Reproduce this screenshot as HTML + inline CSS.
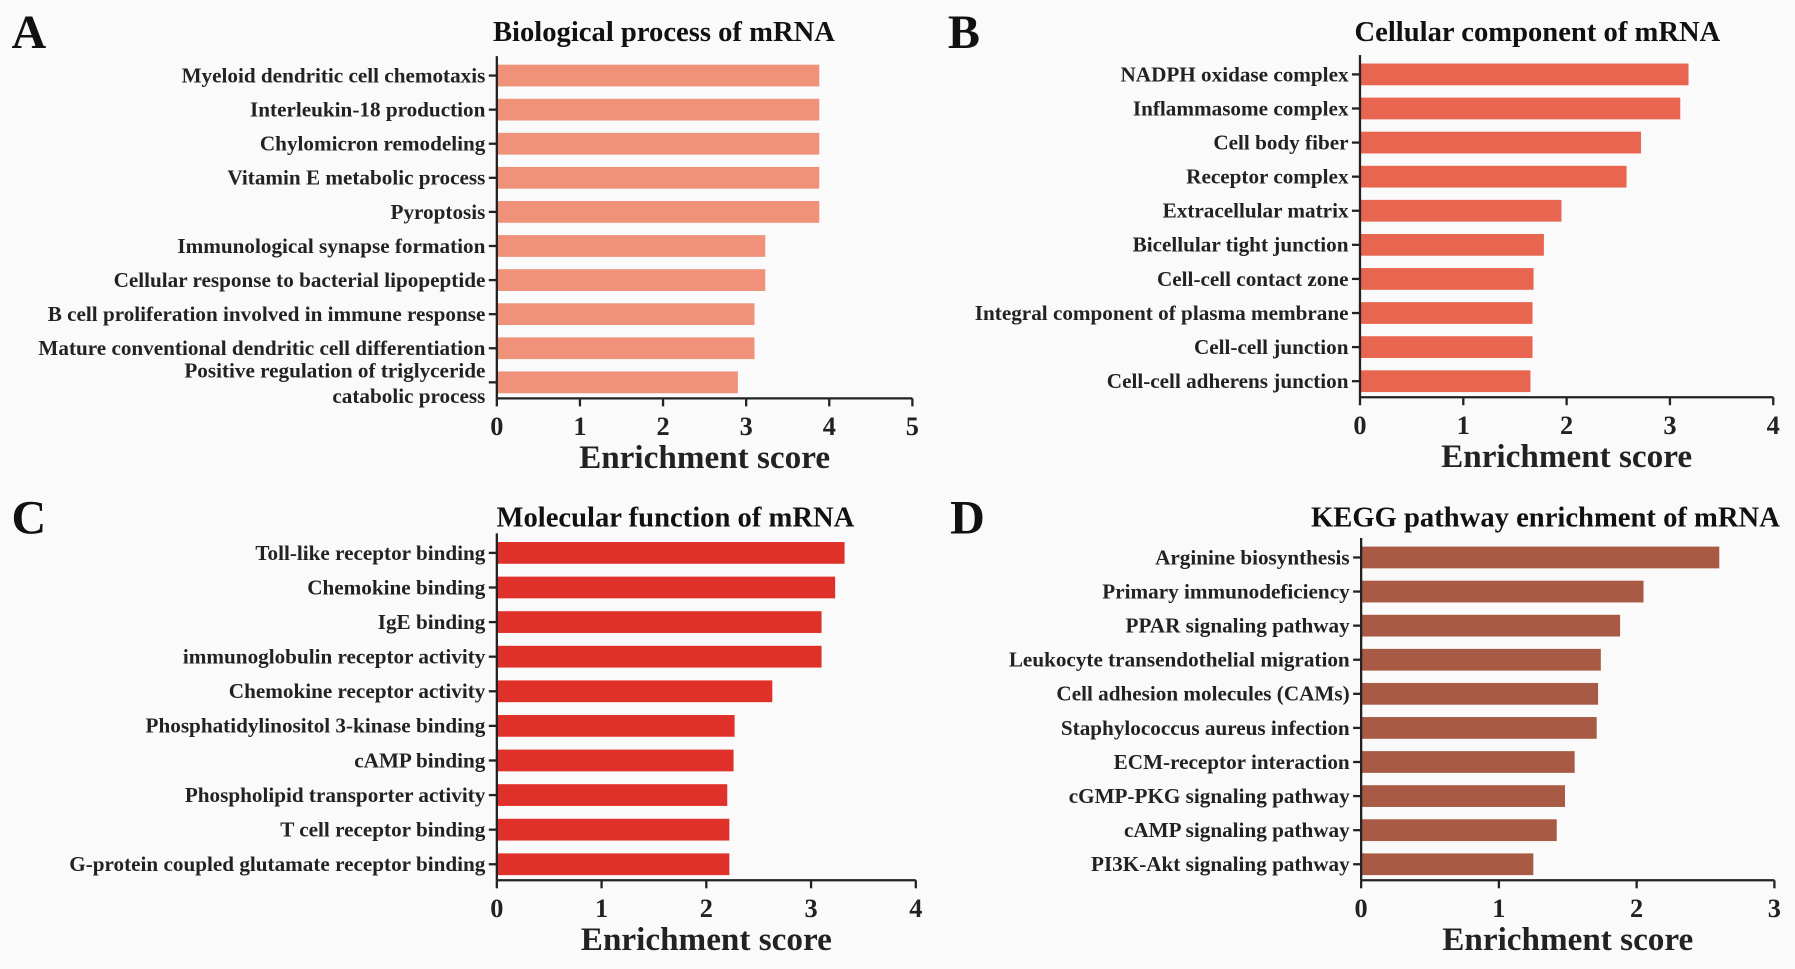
<!DOCTYPE html>
<html><head><meta charset="utf-8"><style>
html,body{margin:0;padding:0;background:#fafafa;}
svg{display:block;font-family:"Liberation Serif",serif;font-weight:bold;}
</style></head><body>
<svg id="fig" width="1795" height="969" viewBox="0 0 1568 846.5" preserveAspectRatio="none" xmlns="http://www.w3.org/2000/svg">
<rect x="0" y="0" width="1568" height="846.5" fill="#fafafa"/>
</svg>
<script>
const catsA=["Myeloid dendritic cell chemotaxis","Interleukin-18 production","Chylomicron remodeling","Vitamin E metabolic process","Pyroptosis","Immunological synapse formation","Cellular response to bacterial lipopeptide","B cell proliferation involved in immune response","Mature conventional dendritic cell differentiation","Positive regulation of triglyceride|catabolic process"];
const valsA=[3.88,3.88,3.88,3.88,3.88,3.23,3.23,3.1,3.1,2.9];
const ticksA=[0,1,2,3,4,5];
const catsB=["NADPH oxidase complex","Inflammasome complex","Cell body fiber","Receptor complex","Extracellular matrix","Bicellular tight junction","Cell-cell contact zone","Integral component of plasma membrane","Cell-cell junction","Cell-cell adherens junction"];
const valsB=[3.18,3.1,2.72,2.58,1.95,1.78,1.68,1.67,1.67,1.65];
const ticksB=[0,1,2,3,4];
const catsC=["Toll-like receptor binding","Chemokine binding","IgE binding","immunoglobulin receptor activity","Chemokine receptor activity","Phosphatidylinositol 3-kinase binding","cAMP binding","Phospholipid transporter activity","T cell receptor binding","G-protein coupled glutamate receptor binding"];
const valsC=[3.32,3.23,3.1,3.1,2.63,2.27,2.26,2.2,2.22,2.22];
const ticksC=[0,1,2,3,4];
const catsD=["Arginine biosynthesis","Primary immunodeficiency","PPAR signaling pathway","Leukocyte transendothelial migration","Cell adhesion molecules (CAMs)","Staphylococcus aureus infection","ECM-receptor interaction","cGMP-PKG signaling pathway","cAMP signaling pathway","PI3K-Akt signaling pathway"];
const valsD=[2.6,2.05,1.88,1.74,1.72,1.71,1.55,1.48,1.42,1.25];
const ticksD=[0,1,2,3];

const NS="http://www.w3.org/2000/svg";
const svg=document.getElementById('fig');
function mk(tag,attrs,parent,txt){const e=document.createElementNS(NS,tag);for(const k in attrs)e.setAttribute(k,attrs[k]);if(txt!==undefined)e.textContent=txt;(parent||svg).appendChild(e);return e;}

function panel(o){
  const g=mk('g',{});
  
  
  const xs=v=>o.x0+(v-o.ticks[0])/(o.ticks[o.ticks.length-1]-o.ticks[0])*(o.x1-o.x0);
  const n=o.cats.length;
  const ys=i=>o.yTop+i*(o.yBot-o.yTop)/(n-1);
  const L=mk('text',{x:o.lx,y:o.ly,'font-size':42,fill:'#111'},g,o.id);
  
  
  const T=mk('text',{x:o.tx,y:o.ty,'font-size':25,'text-anchor':'middle',fill:'#111'},g,o.title);
  
  
  o.cats.forEach((c,i)=>{
    const y=ys(i);
    const b=mk('rect',{x:xs(0),y:y-9.5,width:xs(o.vals[i])-xs(0),height:19,fill:o.color},g);
    
    
    mk('line',{x1:o.x0-7,x2:o.x0,y1:y,y2:y,stroke:'#222','stroke-width':2},g);
    const parts=c.split('|');
    const t=mk('text',{x:o.x0-10,y:parts.length>1?y-4:y+6,'font-size':18.5,'text-anchor':'end',fill:'#222'},g);
    
    
    parts.forEach((p,k)=>{mk('tspan',{x:o.x0-10,dy:k?22:0},t,p);});
  });
  const ay=o.yBot+14;
  const ax=mk('line',{x1:o.x0,x2:o.x0,y1:o.yTop-17,y2:ay,stroke:'#222','stroke-width':2},g);
  
  
  const bx=mk('line',{x1:o.x0,x2:o.x1,y1:ay,y2:ay,stroke:'#222','stroke-width':2},g);
  
  
  o.ticks.forEach(v=>{
    mk('line',{x1:xs(v),x2:xs(v),y1:ay,y2:ay+7,stroke:'#222','stroke-width':2},g);
    const tl=mk('text',{x:xs(v),y:ay+32,'font-size':23,'text-anchor':'middle',fill:'#222'},g,String(v));
    
    
  });
  const at=mk('text',{x:(o.x0+o.x1)/2,y:ay+61,'font-size':29,'text-anchor':'middle',fill:'#222'},g,'Enrichment score');
  
  
}
panel({id:'A',title:'Biological process of mRNA',cats:catsA,vals:valsA,ticks:ticksA,x0:434,x1:797,yTop:66,yBot:334,color:'#F0917A',lx:10,ly:42,tx:580,ty:36});
panel({id:'B',title:'Cellular component  of mRNA',cats:catsB,vals:valsB,ticks:ticksB,x0:1188,x1:1549,yTop:65,yBot:333,color:'#E8654F',lx:828,ly:42,tx:1343,ty:36});
panel({id:'C',title:'Molecular function of mRNA',cats:catsC,vals:valsC,ticks:ticksC,x0:434,x1:800,yTop:483,yBot:755,color:'#E0302A',lx:10,ly:466,tx:590,ty:460});
panel({id:'D',title:'KEGG pathway enrichment of mRNA',cats:catsD,vals:valsD,ticks:ticksD,x0:1189,x1:1550,yTop:487,yBot:755,color:'#A85A45',lx:830,ly:466,tx:1350,ty:460});
</script>
</body></html>
